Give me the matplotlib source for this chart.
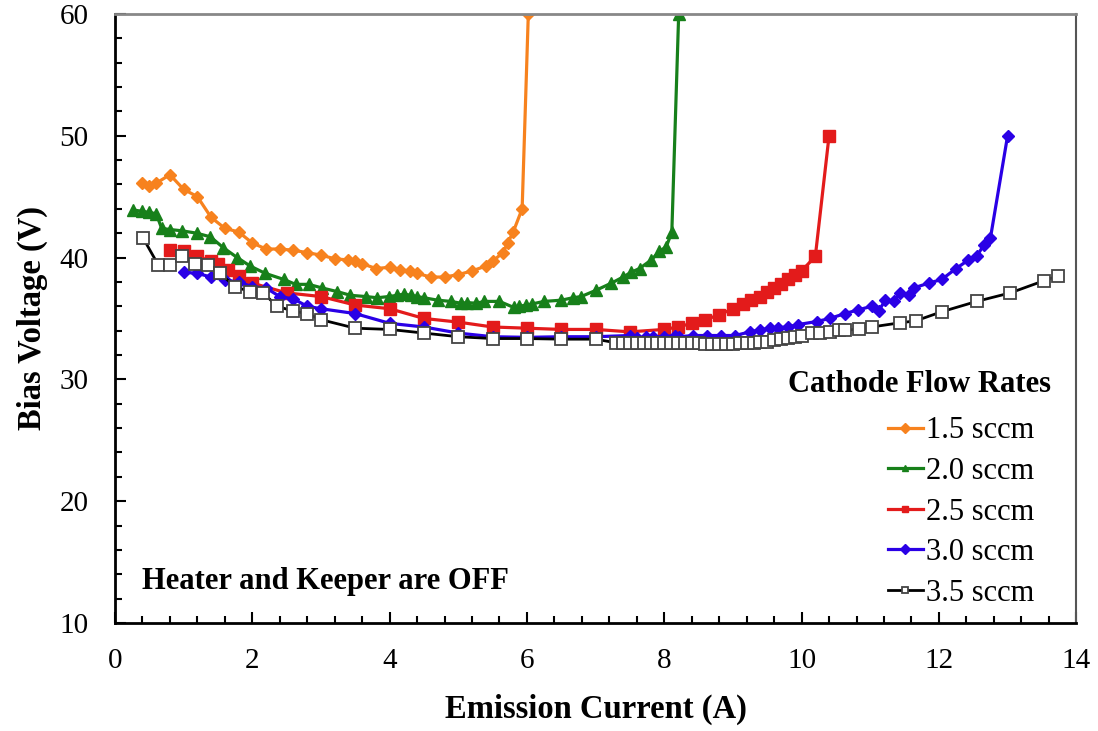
import numpy as np
import matplotlib.pyplot as plt
from matplotlib.ticker import MultipleLocator

# Bias voltage vs emission current for several cathode flow rates

# 1.5 sccm
i_15 = [0.4, 0.5, 0.6, 0.8, 1.0, 1.2, 1.4, 1.6, 1.8, 2.0, 2.2, 2.4, 2.6, 2.8, 3.0,
        3.2, 3.4, 3.5, 3.6, 3.8, 4.0, 4.15, 4.3, 4.4, 4.6, 4.8, 5.0, 5.2, 5.4, 5.5,
        5.65, 5.72, 5.8, 5.93, 6.02]
v_15 = [46.1, 45.9, 46.1, 46.8, 45.6, 45.0, 43.3, 42.4, 42.1, 41.2, 40.7, 40.7, 40.6,
        40.4, 40.2, 39.9, 39.8, 39.7, 39.5, 39.1, 39.2, 39.0, 38.9, 38.7, 38.4, 38.4,
        38.6, 38.9, 39.3, 39.7, 40.4, 41.2, 42.1, 44.0, 60.0]

# 2.0 sccm
i_20 = [0.27, 0.39, 0.5, 0.6, 0.68, 0.8, 0.97, 1.19, 1.39, 1.58, 1.78, 1.97, 2.19,
        2.46, 2.63, 2.82, 3.02, 3.24, 3.43, 3.65, 3.82, 3.99, 4.11, 4.21, 4.31, 4.4,
        4.5, 4.7, 4.89, 5.04, 5.13, 5.26, 5.38, 5.6, 5.81, 5.89, 5.99, 6.08, 6.25,
        6.5, 6.67, 6.79, 7.0, 7.23, 7.4, 7.52, 7.64, 7.81, 7.93, 8.03, 8.11, 8.21]
v_20 = [43.9, 43.8, 43.7, 43.6, 42.4, 42.3, 42.2, 42.0, 41.7, 40.8, 40.0, 39.3, 38.7,
        38.2, 37.8, 37.8, 37.5, 37.2, 36.9, 36.8, 36.7, 36.8, 36.9, 37.0, 36.9, 36.8,
        36.7, 36.5, 36.4, 36.25, 36.3, 36.25, 36.4, 36.4, 35.9, 36.0, 36.1, 36.2, 36.4,
        36.5, 36.7, 36.8, 37.3, 37.9, 38.4, 38.8, 39.1, 39.8, 40.5, 40.9, 42.1, 60.0]

# 2.5 sccm
i_25 = [0.8, 1.0, 1.2, 1.4, 1.5, 1.65, 1.8, 2.0, 2.5, 3.0, 3.5, 4.0, 4.5, 5.0, 5.5,
        6.0, 6.5, 7.0, 7.5, 8.0, 8.2, 8.4, 8.6, 8.8, 9.0, 9.15, 9.27, 9.39, 9.5, 9.6,
        9.7, 9.8, 9.9, 10.0, 10.2, 10.4]
v_25 = [40.6, 40.5, 40.1, 39.7, 39.5, 39.0, 38.5, 37.9, 37.1, 36.8, 36.1, 35.8, 35.0,
        34.7, 34.3, 34.2, 34.1, 34.1, 33.9, 34.1, 34.3, 34.6, 34.9, 35.3, 35.8, 36.2,
        36.5, 36.8, 37.2, 37.5, 37.8, 38.2, 38.6, 38.9, 40.1, 50.0]

# 3.0 sccm
i_30 = [1.0, 1.2, 1.4, 1.6, 1.8, 2.0, 2.2, 2.4, 2.6, 2.8, 3.0, 3.5, 4.0, 4.5, 5.0,
        5.5, 6.0, 6.5, 7.0, 7.5, 7.6, 7.74, 7.83, 8.0, 8.15, 8.22, 8.42, 8.62, 8.83,
        9.03, 9.25, 9.39, 9.54, 9.66, 9.8, 9.95, 10.22, 10.41, 10.63, 10.82, 11.02,
        11.12, 11.22, 11.34, 11.44, 11.56, 11.63, 11.85, 12.04, 12.25, 12.43, 12.55,
        12.65, 12.75, 13.0]
v_30 = [38.8, 38.7, 38.4, 38.15, 38.0, 37.6, 37.5, 36.8, 36.6, 36.0, 35.8, 35.4, 34.6,
        34.3, 33.8, 33.5, 33.45, 33.5, 33.5, 33.6, 33.4, 33.5, 33.5, 33.5, 33.6, 33.5,
        33.6, 33.6, 33.6, 33.6, 33.9, 34.05, 34.2, 34.25, 34.3, 34.5, 34.75, 35.0,
        35.4, 35.7, 36.0, 35.6, 36.5, 36.4, 37.1, 36.9, 37.5, 37.9, 38.2, 39.1, 39.8,
        40.1, 41.0, 41.6, 50.0]

# 3.5 sccm
i_35 = [0.41, 0.63, 0.8, 0.97, 1.17, 1.36, 1.53, 1.75, 1.97, 2.16, 2.36, 2.6, 2.8, 3.0,
        3.5, 4.0, 4.5, 5.0, 5.5, 6.0, 6.5, 7.0, 7.3, 7.4, 7.5, 7.6, 7.7, 7.8, 7.9, 8.0,
        8.1, 8.2, 8.3, 8.4, 8.5, 8.6, 8.7, 8.8, 8.9, 9.0, 9.1, 9.2, 9.3, 9.4, 9.5, 9.6,
        9.7, 9.8, 9.9, 10.0, 10.15, 10.27, 10.41, 10.54, 10.63, 10.83, 11.02, 11.44,
        11.66, 12.04, 12.55, 13.04, 13.53, 13.74]
v_35 = [41.6, 39.4, 39.4, 40.1, 39.5, 39.4, 38.7, 37.6, 37.2, 37.1, 36.0, 35.6, 35.4,
        34.9, 34.2, 34.1, 33.8, 33.5, 33.35, 33.35, 33.3, 33.3, 33.0, 33.0, 33.0, 33.0,
        33.0, 33.0, 33.0, 33.0, 33.0, 33.0, 33.0, 33.0, 33.0, 32.9, 32.9, 32.9, 32.9,
        32.9, 33.0, 33.0, 33.0, 33.1, 33.1, 33.2, 33.3, 33.4, 33.5, 33.6, 33.8, 33.8,
        33.9, 34.05, 34.05, 34.1, 34.3, 34.65, 34.8, 35.55, 36.4, 37.1, 38.1, 38.5]

labels = ['1.5 sccm', '2.0 sccm', '2.5 sccm', '3.0 sccm', '3.5 sccm']

plt.rcParams['font.family'] = ['Liberation Serif', 'DejaVu Serif']

fig = plt.figure(figsize=(10.98, 7.31), dpi=100)
ax = fig.add_axes([0.1047, 0.1477, 0.8755, 0.8333])

ax.plot(i_15, v_15, color='#F7821E', lw=2.3, marker='D', ms=6.5, label=labels[0])
ax.plot(i_20, v_20, color='#17801A', lw=2.3, marker='^', ms=9, label=labels[1])
ax.plot(i_25, v_25, color='#E31B1B', lw=2.3, marker='s', ms=8.5, label=labels[2])
ax.plot(i_30, v_30, color='#2A00E6', lw=2.3, marker='D', ms=6.5, label=labels[3])
ax.plot(i_35, v_35, color='black', lw=2, marker='s', ms=8, mfc='white', mec='#444444',
        mew=1.3, label=labels[4])

ax.set_xlim(0, 14)
ax.set_ylim(10, 60)
ax.xaxis.set_major_locator(MultipleLocator(2))
ax.xaxis.set_minor_locator(MultipleLocator(0.4))
ax.yaxis.set_major_locator(MultipleLocator(10))
ax.yaxis.set_minor_locator(MultipleLocator(2))
ax.tick_params(which='both', direction='in', top=False, right=False, width=1.5,
               labelsize=21)
ax.tick_params(axis='x', pad=18)
ax.tick_params(axis='y', pad=19)
ax.tick_params(which='major', length=8)
ax.tick_params(which='minor', length=5)

ax.spines['left'].set_linewidth(2)
ax.spines['bottom'].set_linewidth(2)
ax.spines['top'].set_color('#888888')
ax.spines['top'].set_linewidth(2)
ax.spines['right'].set_color('#555555')
ax.spines['right'].set_linewidth(1.5)

ax.set_xlabel('Emission Current (A)', fontsize=23.5, fontweight='bold', labelpad=14)
ax.set_ylabel('Bias Voltage (V)', fontsize=23.5, fontweight='bold', labelpad=8)

ax.text(0.4, 13.4, 'Heater and Keeper are OFF', fontsize=22, fontweight='bold',
        va='center', ha='left')

ax.text(9.8, 29.6, 'Cathode Flow Rates', fontsize=22, fontweight='bold',
        va='center', ha='left')
leg = ax.legend(loc='lower left', bbox_to_anchor=(0.804, 0.025), frameon=False,
                fontsize=22, handlelength=1.15, handletextpad=0.1, labelspacing=0.38,
                borderpad=0, borderaxespad=0)
for h in leg.legend_handles:
    h.set_markersize(5)

fig.savefig('out.png', dpi=100)
